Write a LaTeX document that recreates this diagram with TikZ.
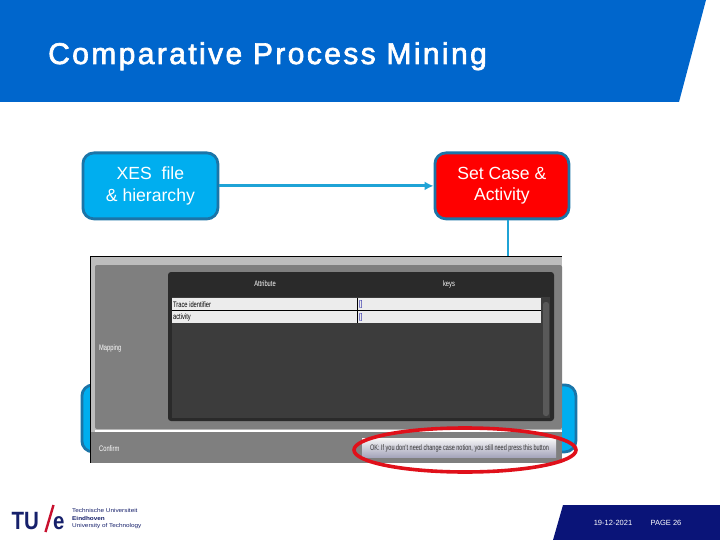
\documentclass[tikz,border=0pt]{standalone}
\usepackage{fontspec}
\setmainfont{Liberation Sans}
\newfontfamily\titlefont[LetterSpace=8.0,FakeBold=2.2]{Liberation Sans}
\usetikzlibrary{arrows.meta}
\definecolor{headblue}{HTML}{0066CC}
\definecolor{footnavy}{HTML}{0A1478}
\definecolor{boxfill}{HTML}{00AEEF}
\definecolor{boxline}{HTML}{1B75A8}
\definecolor{linkblue}{HTML}{1FA3D6}
\definecolor{tuenavy}{HTML}{16206B}
\definecolor{tuered}{HTML}{C8102E}
\definecolor{panelgray}{HTML}{7F7F7F}
\definecolor{bandgray}{HTML}{BDBDBD}
\definecolor{darkhead}{HTML}{2A2A2A}
\definecolor{darkbody}{HTML}{3C3C3C}
\definecolor{rowfill}{HTML}{ECECEC}
\definecolor{ringred}{HTML}{E0101A}
\tikzset{
  flowbox/.style={draw=boxline,line width=2.8pt,rounded corners=11pt,fill=boxfill,text=white,
    align=center,font=\fontsize{17.6}{21.5}\selectfont,anchor=north west},
  link/.style={draw=linkblue,line width=2.8pt},
  shot/.style={font=\fontsize{8}{9}\selectfont,text=white,xscale=.72,inner sep=0pt},
  rowtext/.style={font=\fontsize{8}{9}\selectfont,text=black,xscale=.72,inner sep=0pt,anchor=west},
  foot/.style={font=\fontsize{7.5}{9}\selectfont,text=white,inner sep=0pt},
  logotext/.style={font=\fontsize{5.6}{7.5}\selectfont,text=tuenavy,inner sep=0pt,anchor=west,align=left,xscale=1.14}
}
\begin{document}
\begin{tikzpicture}[x=1pt,y=-1pt]
\useasboundingbox (0,0) rectangle (720,540);
\fill[white] (0,0) rectangle (720,540);
% header
\fill[headblue] (0,0) -- (706,0) -- (679,102) -- (0,102) -- cycle;
\node[anchor=base west,inner sep=0pt,text=white,font=\titlefont\fontsize{30}{36}\selectfont] (title) at (48,64) {Comparative Process Mining};
% flow boxes
\node[flowbox,minimum width=135pt,minimum height=66pt] (xes) at (81.5,151.5) {XES\ \ file\\\& hierarchy};
\node[flowbox,fill=red,minimum width=134pt,minimum height=66pt] (setcase) at (433.5,151.5) {Set Case \&\\Activity};
\node[flowbox,minimum width=135pt,minimum height=67pt] (lowleft) at (80.5,383.5) {};
\node[flowbox,minimum width=141pt,minimum height=67pt] (lowright) at (433.5,383.5) {};
\draw[link,-{Latex[length=9pt,width=9pt]}] (xes.east) -- (setcase.west);
\draw[link] ([xshift=6pt]setcase.south) -- ([xshift=6pt]setcase.south |- lowright.north);
% screenshot
\fill[bandgray] (90,256) rectangle (562,463);
\draw[black,line width=.8pt] (90,256.4) -- (562,256.4);
\draw[black,line width=.8pt] (90.4,256) -- (90.4,463);
\fill[panelgray,rounded corners=2pt] (95,265) rectangle (562,429);
\fill[panelgray] (91,432) rectangle (562,463);
\fill[white] (95,430) rectangle (562,432);
\fill[darkhead,rounded corners=3pt] (168,272) rectangle (554,421);
\fill[darkbody] (172,297) rectangle (550,418);
\fill[rowfill] (172,298) rectangle (541,310);
\fill[rowfill] (172,311) rectangle (541,323);
\draw[black,line width=.7pt] (172,310.5) -- (541,310.5);
\draw[black,line width=.7pt] (357,298) -- (357,323);
\fill[black!65,rounded corners=2.5pt] (543,302) rectangle (549,416);
\node[shot] (attr) at (265,284) {Attribute};
\node[shot] (keys) at (449,284) {keys};
\node[rowtext] (trace) at (173,304.3) {Trace identifier};
\node[rowtext] (activity) at (173,317) {activity};
\node[rowtext,text=blue!60!black] (k1) at (359,304.3) {[]};
\node[rowtext,text=blue!60!black] (k2) at (359,317) {[]};
\node[shot,anchor=west] (mapping) at (99,348) {Mapping};
\node[shot,anchor=west] (confirm) at (99,448.5) {Confirm};
\shade[top color=black!3,bottom color=blue!25!black!35] (362,438) rectangle (556,457);
\node[shot,text=black!80,anchor=center,xscale=.96] (ok) at (459.5,448) {OK: If you don't need change case notion, you still need press this button};
\draw[ringred,line width=3.6pt] (465,450) ellipse [x radius=111,y radius=22];
% logo
\node[anchor=base west,inner sep=0pt,text=tuenavy,font=\bfseries\fontsize{25}{26}\selectfont,xscale=.82] (tu) at (11.5,529) {TU};
\draw[tuered,line width=2.4pt] (45.5,532) -- (53.5,505);
\node[anchor=base west,inner sep=0pt,text=tuenavy,font=\bfseries\fontsize{24}{26}\selectfont,xscale=.85] (e) at (53,529) {e};
\node[logotext] (logotxt) at (72,519) {Technische Universiteit\\\textbf{Eindhoven}\\University of Technology};
% footer
\fill[footnavy] (563,505) -- (720,505) -- (720,540) -- (553,540) -- cycle;
\node[foot] (date) at (613,523) {19-12-2021};
\node[foot] (page) at (666,523) {PAGE 26};
\end{tikzpicture}
\end{document}
